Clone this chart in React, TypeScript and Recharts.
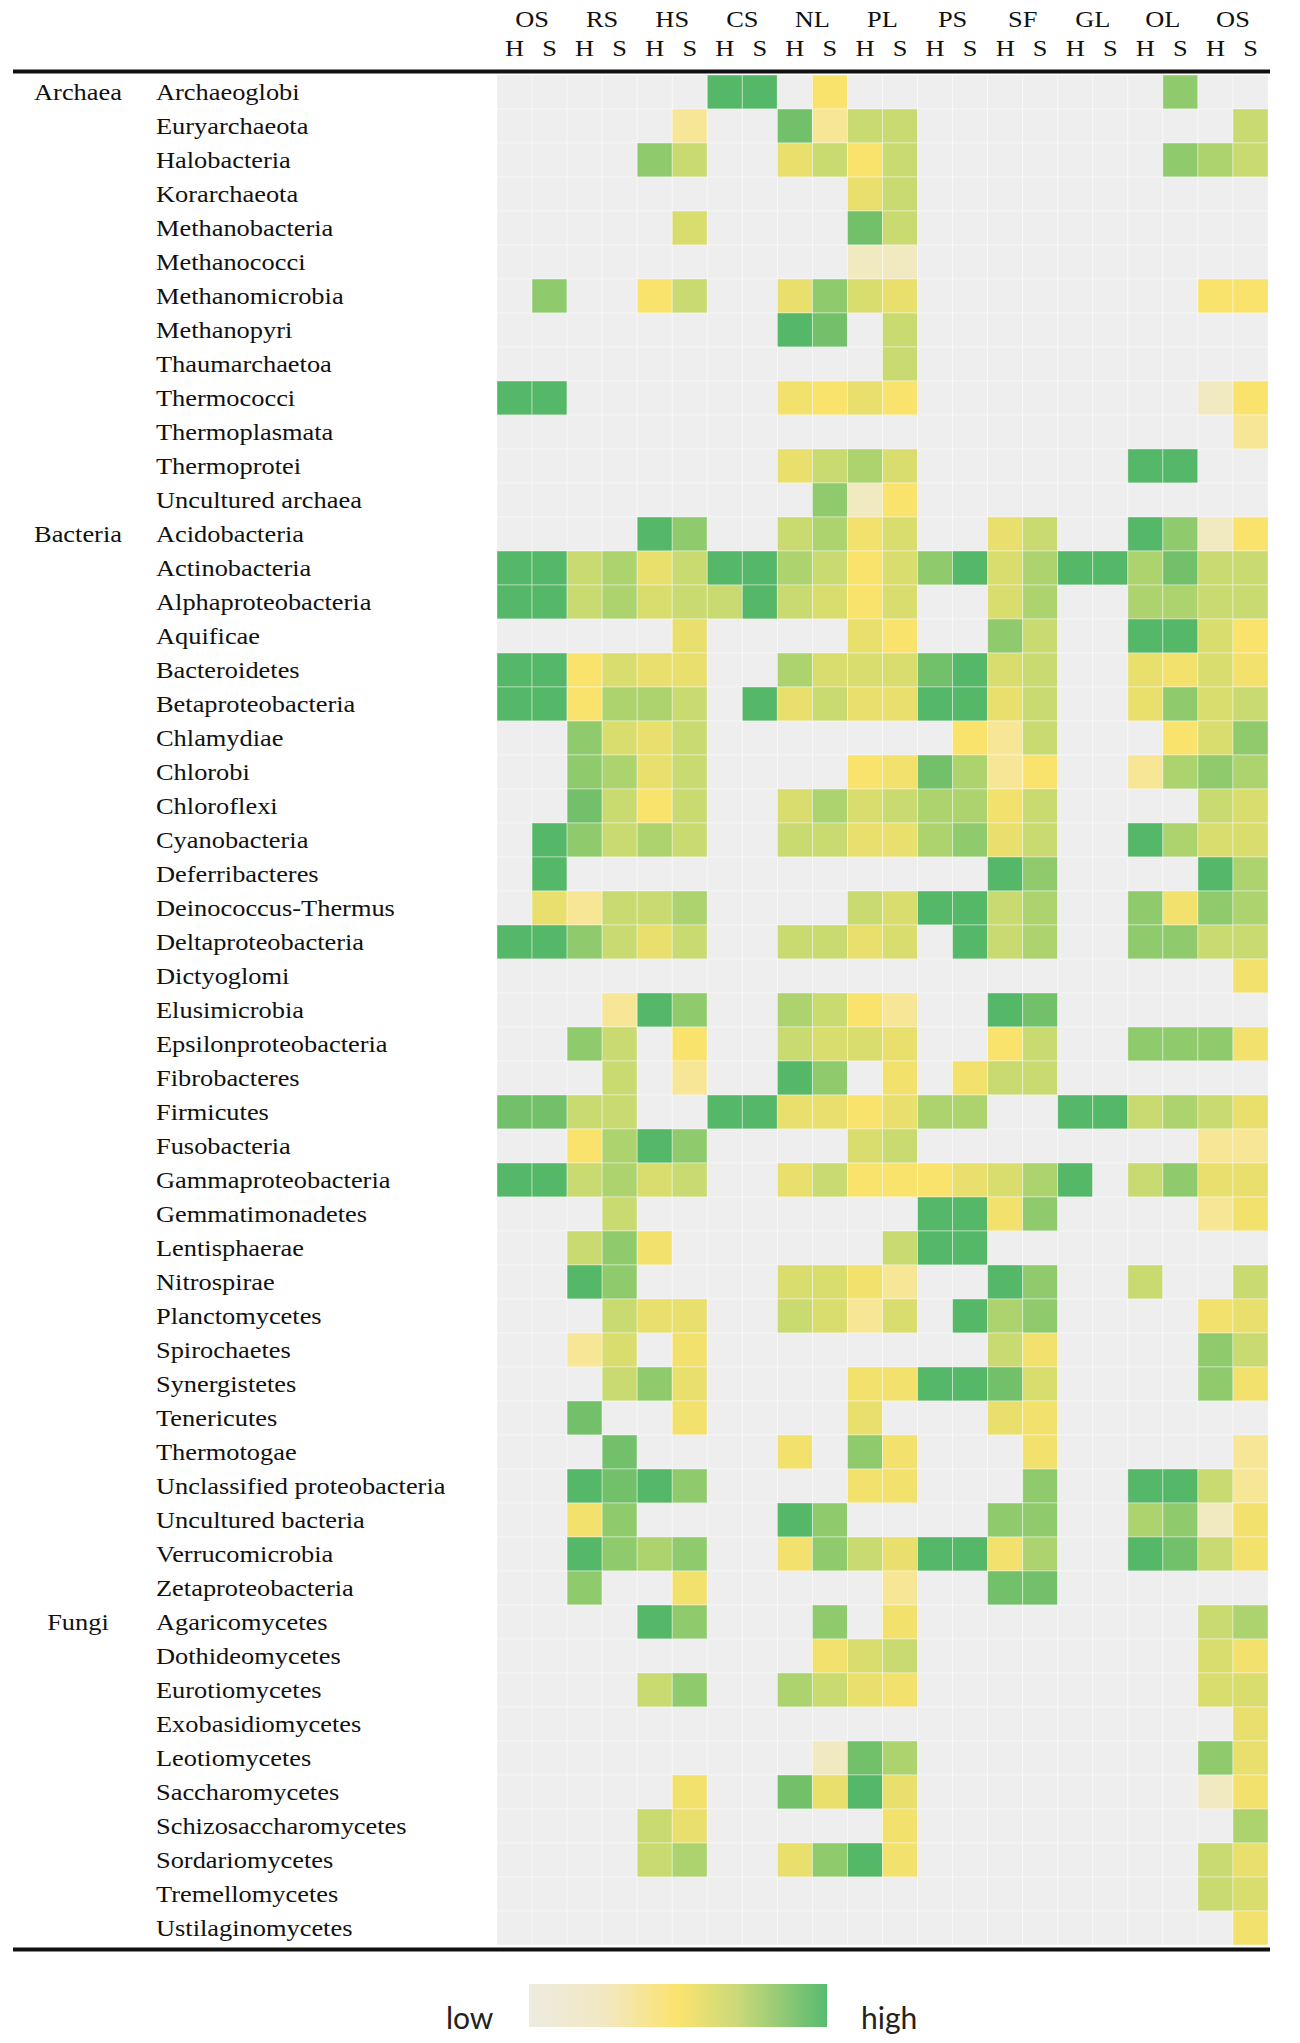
import { ScatterChart, Scatter, XAxis, YAxis } from "recharts";

const sites = ["OS", "RS", "HS", "CS", "NL", "PL", "PS", "SF", "GL", "OL", "OS"];
const sides = ["H", "S"];

const archaeaTaxa = [
  "Archaeoglobi", "Euryarchaeota", "Halobacteria", "Korarchaeota", "Methanobacteria",
  "Methanococci", "Methanomicrobia", "Methanopyri", "Thaumarchaetoa", "Thermococci",
  "Thermoplasmata", "Thermoprotei", "Uncultured archaea",
];
const bacteriaTaxa = [
  "Acidobacteria", "Actinobacteria", "Alphaproteobacteria", "Aquificae", "Bacteroidetes",
  "Betaproteobacteria", "Chlamydiae", "Chlorobi", "Chloroflexi", "Cyanobacteria",
  "Deferribacteres", "Deinococcus-Thermus", "Deltaproteobacteria", "Dictyoglomi",
  "Elusimicrobia", "Epsilonproteobacteria", "Fibrobacteres", "Firmicutes", "Fusobacteria",
  "Gammaproteobacteria", "Gemmatimonadetes", "Lentisphaerae", "Nitrospirae",
  "Planctomycetes", "Spirochaetes", "Synergistetes", "Tenericutes", "Thermotogae",
  "Unclassified proteobacteria", "Uncultured bacteria", "Verrucomicrobia", "Zetaproteobacteria",
];
const fungiTaxa = [
  "Agaricomycetes", "Dothideomycetes", "Eurotiomycetes", "Exobasidiomycetes", "Leotiomycetes",
  "Saccharomycetes", "Schizosaccharomycetes", "Sordariomycetes", "Tremellomycetes",
  "Ustilaginomycetes",
];

// relative abundance, 0 = not detected, 1 (low) .. 6 (high)
// columns: OS H, OS S, RS H, RS S, HS H, HS S, CS H, CS S, NL H, NL S, PL H, PL S,
//          PS H, PS S, SF H, SF S, GL H, GL S, OL H, OL S, OS H, OS S
const archaeaValues = [
  [0, 0, 0, 0, 0, 0, 6, 6, 0, 2, 0, 0, 0, 0, 0, 0, 0, 0, 0, 5, 0, 0],
  [0, 0, 0, 0, 0, 1.5, 0, 0, 5.5, 1.5, 4, 4, 0, 0, 0, 0, 0, 0, 0, 0, 0, 4],
  [0, 0, 0, 0, 5, 4, 0, 0, 3, 4, 2, 4, 0, 0, 0, 0, 0, 0, 0, 5, 4.5, 4],
  [0, 0, 0, 0, 0, 0, 0, 0, 0, 0, 3, 4, 0, 0, 0, 0, 0, 0, 0, 0, 0, 0],
  [0, 0, 0, 0, 0, 3.5, 0, 0, 0, 0, 5.5, 4, 0, 0, 0, 0, 0, 0, 0, 0, 0, 0],
  [0, 0, 0, 0, 0, 0, 0, 0, 0, 0, 1, 1, 0, 0, 0, 0, 0, 0, 0, 0, 0, 0],
  [0, 5, 0, 0, 2, 4, 0, 0, 3, 5, 3.5, 3, 0, 0, 0, 0, 0, 0, 0, 0, 2, 2],
  [0, 0, 0, 0, 0, 0, 0, 0, 6, 5.5, 0, 4, 0, 0, 0, 0, 0, 0, 0, 0, 0, 0],
  [0, 0, 0, 0, 0, 0, 0, 0, 0, 0, 0, 4, 0, 0, 0, 0, 0, 0, 0, 0, 0, 0],
  [6, 6, 0, 0, 0, 0, 0, 0, 2.5, 2, 3, 2, 0, 0, 0, 0, 0, 0, 0, 0, 1, 2],
  [0, 0, 0, 0, 0, 0, 0, 0, 0, 0, 0, 0, 0, 0, 0, 0, 0, 0, 0, 0, 0, 1.5],
  [0, 0, 0, 0, 0, 0, 0, 0, 3, 4, 4.5, 3.5, 0, 0, 0, 0, 0, 0, 6, 6, 0, 0],
  [0, 0, 0, 0, 0, 0, 0, 0, 0, 5, 1, 2, 0, 0, 0, 0, 0, 0, 0, 0, 0, 0],
];
const bacteriaValues = [
  [0, 0, 0, 0, 6, 5, 0, 0, 4, 4.5, 2.5, 3.5, 0, 0, 3, 4, 0, 0, 6, 5, 1, 2],
  [6, 6, 4, 4.5, 3, 4, 6, 6, 4.5, 4, 2, 3.5, 5, 6, 3.5, 4.5, 6, 6, 4.5, 5.5, 4, 4],
  [6, 6, 4, 4.5, 3.5, 4, 4, 6, 4, 3.5, 2, 3.5, 0, 0, 3.5, 4.5, 0, 0, 4.5, 4.5, 4, 4],
  [0, 0, 0, 0, 0, 3, 0, 0, 0, 0, 3, 2, 0, 0, 5, 4, 0, 0, 6, 6, 3.5, 2],
  [6, 6, 2, 3.5, 3, 3, 0, 0, 4.5, 3.5, 3.5, 3.5, 5.5, 6, 3.5, 4, 0, 0, 3, 2.5, 3.5, 2.5],
  [6, 6, 2, 4.5, 4.5, 4, 0, 6, 3, 4, 3, 3, 6, 6, 3, 4, 0, 0, 3, 5, 3.5, 4],
  [0, 0, 5, 3.5, 3, 4, 0, 0, 0, 0, 0, 0, 0, 2, 1.5, 4, 0, 0, 0, 2, 3.5, 5],
  [0, 0, 5, 4.5, 3, 4, 0, 0, 0, 0, 2, 2.5, 5.5, 4.5, 1.5, 2, 0, 0, 1.5, 4.5, 5, 4.5],
  [0, 0, 5.5, 4, 2, 4, 0, 0, 3.5, 4.5, 3.5, 4, 4.5, 4.5, 2.5, 4, 0, 0, 0, 0, 4, 3.5],
  [0, 6, 5, 4, 4.5, 4, 0, 0, 4, 4, 3, 3, 4.5, 5, 3, 4, 0, 0, 6, 4.5, 3.5, 3.5],
  [0, 6, 0, 0, 0, 0, 0, 0, 0, 0, 0, 0, 0, 0, 6, 5, 0, 0, 0, 0, 6, 4.5],
  [0, 3, 1.5, 4, 4, 4.5, 0, 0, 0, 0, 4, 3.5, 6, 6, 4, 4.5, 0, 0, 5, 2.5, 5, 4.5],
  [6, 6, 5, 4, 3, 4, 0, 0, 4, 4, 3, 3.5, 0, 6, 4, 4.5, 0, 0, 5, 5, 4, 4],
  [0, 0, 0, 0, 0, 0, 0, 0, 0, 0, 0, 0, 0, 0, 0, 0, 0, 0, 0, 0, 0, 2.5],
  [0, 0, 0, 1.5, 6, 5, 0, 0, 4.5, 4, 2, 1.5, 0, 0, 6, 5.5, 0, 0, 0, 0, 0, 0],
  [0, 0, 5, 4, 0, 2, 0, 0, 4, 3.5, 3.5, 3, 0, 0, 2, 4, 0, 0, 5, 5, 5, 2.5],
  [0, 0, 0, 4, 0, 1.5, 0, 0, 6, 5, 0, 2.5, 0, 2.5, 4, 4, 0, 0, 0, 0, 0, 0],
  [5.5, 5.5, 4, 4, 0, 0, 6, 6, 3, 3, 2, 3, 4.5, 4.5, 0, 0, 6, 6, 4, 4.5, 4, 3],
  [0, 0, 2, 4.5, 6, 5, 0, 0, 0, 0, 3.5, 4, 0, 0, 0, 0, 0, 0, 0, 0, 1.5, 1.5],
  [6, 6, 4, 4.5, 3.5, 4, 0, 0, 3, 4, 2, 2, 2, 3, 3.5, 4.5, 6, 0, 4, 5, 3, 3],
  [0, 0, 0, 4, 0, 0, 0, 0, 0, 0, 0, 0, 6, 6, 2.5, 5, 0, 0, 0, 0, 1.5, 2.5],
  [0, 0, 4, 5, 2.5, 0, 0, 0, 0, 0, 0, 4, 6, 6, 0, 0, 0, 0, 0, 0, 0, 0],
  [0, 0, 6, 5, 0, 0, 0, 0, 3.5, 3.5, 2.5, 1.5, 0, 0, 6, 5, 0, 0, 4, 0, 0, 4],
  [0, 0, 0, 4, 3, 3, 0, 0, 4, 3.5, 1.5, 3.5, 0, 6, 4.5, 5, 0, 0, 0, 0, 2.5, 3],
  [0, 0, 1.5, 3.5, 0, 2.5, 0, 0, 0, 0, 0, 0, 0, 0, 4, 2.5, 0, 0, 0, 0, 5, 4],
  [0, 0, 0, 4, 5, 3, 0, 0, 0, 0, 2.5, 2.5, 6, 6, 5.5, 3.5, 0, 0, 0, 0, 5, 2.5],
  [0, 0, 5.5, 0, 0, 2.5, 0, 0, 0, 0, 3, 0, 0, 0, 3, 2.5, 0, 0, 0, 0, 0, 0],
  [0, 0, 0, 5.5, 0, 0, 0, 0, 2.5, 0, 5, 2.5, 0, 0, 0, 2.5, 0, 0, 0, 0, 0, 1.5],
  [0, 0, 6, 5.5, 6, 5, 0, 0, 0, 0, 2.5, 2.5, 0, 0, 0, 5, 0, 0, 6, 6, 4, 1.5],
  [0, 0, 2.5, 5, 0, 0, 0, 0, 6, 5, 0, 0, 0, 0, 5, 5, 0, 0, 4.5, 5, 1, 2.5],
  [0, 0, 6, 5, 4.5, 5, 0, 0, 2.5, 5, 4, 3, 6, 6, 2.5, 4.5, 0, 0, 6, 5.5, 4, 2.5],
  [0, 0, 5, 0, 0, 2.5, 0, 0, 0, 0, 0, 1.5, 0, 0, 5.5, 5.5, 0, 0, 0, 0, 0, 0],
];
const fungiValues = [
  [0, 0, 0, 0, 6, 5, 0, 0, 0, 5, 0, 2.5, 0, 0, 0, 0, 0, 0, 0, 0, 4, 4.5],
  [0, 0, 0, 0, 0, 0, 0, 0, 0, 2.5, 3.5, 4, 0, 0, 0, 0, 0, 0, 0, 0, 3.5, 2.5],
  [0, 0, 0, 0, 4, 5, 0, 0, 4.5, 4, 3, 2.5, 0, 0, 0, 0, 0, 0, 0, 0, 3.5, 3.5],
  [0, 0, 0, 0, 0, 0, 0, 0, 0, 0, 0, 0, 0, 0, 0, 0, 0, 0, 0, 0, 0, 3],
  [0, 0, 0, 0, 0, 0, 0, 0, 0, 1, 5.5, 4.5, 0, 0, 0, 0, 0, 0, 0, 0, 5, 3],
  [0, 0, 0, 0, 0, 2.5, 0, 0, 5.5, 3, 6, 3, 0, 0, 0, 0, 0, 0, 0, 0, 1, 2.5],
  [0, 0, 0, 0, 4, 3, 0, 0, 0, 0, 0, 2.5, 0, 0, 0, 0, 0, 0, 0, 0, 0, 4.5],
  [0, 0, 0, 0, 4, 4.5, 0, 0, 3, 5, 6, 2.5, 0, 0, 0, 0, 0, 0, 0, 0, 4, 3],
  [0, 0, 0, 0, 0, 0, 0, 0, 0, 0, 0, 0, 0, 0, 0, 0, 0, 0, 0, 0, 4, 3.5],
  [0, 0, 0, 0, 0, 0, 0, 0, 0, 0, 0, 0, 0, 0, 0, 0, 0, 0, 0, 0, 0, 2.5],
];

const groups = [
  { name: "Archaea", taxa: archaeaTaxa, values: archaeaValues },
  { name: "Bacteria", taxa: bacteriaTaxa, values: bacteriaValues },
  { name: "Fungi", taxa: fungiTaxa, values: fungiValues },
];

const columns = sites.flatMap((s) => sides.map((h) => ({ site: s, side: h })));
const taxa = groups.flatMap((g) => g.taxa);
const groupStart: Record<number, string> = {};
{
  let n = 0;
  groups.forEach((g) => {
    groupStart[n] = g.name;
    n += g.taxa.length;
  });
}
const cells = groups
  .flatMap((g) => g.values)
  .flatMap((row, r) => row.map((v, c) => ({ x: c + 0.5, y: r + 0.5, v })));

const W = 1300;
const H = 2043;
const PLOT_LEFT = 497;
const PLOT_RIGHT = 1268;
const PLOT_TOP = 75;
const PLOT_BOTTOM = 1945;
const CELL_W = (PLOT_RIGHT - PLOT_LEFT) / columns.length;
const CELL_H = (PLOT_BOTTOM - PLOT_TOP) / taxa.length;

const stops = ["#eeeeee", "#f1e9c0", "#fae36c", "#e9df6c", "#c8da70", "#8fcb6c", "#55b768"];

function hex(c: string) {
  return [1, 3, 5].map((i) => parseInt(c.slice(i, i + 2), 16));
}

function colorFor(v: number) {
  if (v <= 0) return stops[0];
  const lo = Math.floor(v);
  const hi = Math.min(stops.length - 1, lo + 1);
  const t = v - lo;
  const a = hex(stops[lo]);
  const b = hex(stops[hi]);
  const m = a.map((x, i) => Math.round(x + (b[i] - x) * t));
  return `rgb(${m[0]},${m[1]},${m[2]})`;
}

const serif = "'Liberation Serif', 'Times New Roman', serif";

const HeatCell = (props: any) => {
  const { cx, cy, payload } = props;
  return (
    <rect
      x={cx - CELL_W / 2}
      y={cy - CELL_H / 2}
      width={CELL_W}
      height={CELL_H}
      fill={colorFor(payload.v)}
      stroke="#ffffff"
      strokeOpacity={0.4}
      strokeWidth={1}
    />
  );
};

const RowTick = (props: any) => {
  const { y, payload } = props;
  const i = Math.floor(payload.value);
  const g = groupStart[i];
  return (
    <g fontFamily={serif} fontSize={24} fill="#111">
      {g && (
        <text transform={`translate(78, ${y + 8}) scale(1.1, 1)`} textAnchor="middle">
          {g}
        </text>
      )}
      <text transform={`translate(156, ${y + 8}) scale(1.1, 1)`}>{taxa[i]}</text>
    </g>
  );
};

const ColTick = (props: any) => {
  const { x, payload } = props;
  const c = Math.floor(payload.value);
  const col = columns[c];
  return (
    <g fontFamily={serif} fontSize={24} fill="#111">
      {c % 2 === 0 && (
        <text transform={`translate(${x + CELL_W / 2}, 27) scale(1.1, 1)`} textAnchor="middle">
          {col.site}
        </text>
      )}
      <text transform={`translate(${x}, 56) scale(1.1, 1)`} textAnchor="middle">
        {col.side}
      </text>
    </g>
  );
};

export default function App() {
  return (
    <div style={{ position: "absolute", left: 0, top: 0, width: W, height: H, background: "#fff" }}>
      <ScatterChart
        width={W}
        height={H}
        margin={{ top: PLOT_TOP - 70, right: W - PLOT_RIGHT, bottom: H - PLOT_BOTTOM, left: PLOT_LEFT - 340 }}
      >
        <XAxis
          dataKey="x"
          type="number"
          orientation="top"
          domain={[0, columns.length]}
          ticks={columns.map((_, i) => i + 0.5)}
          interval={0}
          height={70}
          axisLine={false}
          tickLine={false}
          tick={<ColTick />}
        />
        <YAxis
          dataKey="y"
          type="number"
          reversed
          domain={[0, taxa.length]}
          ticks={taxa.map((_, i) => i + 0.5)}
          interval={0}
          width={340}
          axisLine={false}
          tickLine={false}
          tick={<RowTick />}
        />
        <Scatter data={cells} shape={<HeatCell />} isAnimationActive={false} />
      </ScatterChart>
      <svg width={W} height={H} style={{ position: "absolute", left: 0, top: 0, pointerEvents: "none" }}>
        <defs>
          <linearGradient id="legendFill" x1="0" y1="0" x2="1" y2="0">
            <stop offset="0%" stopColor="#eeebe0" />
            <stop offset="25%" stopColor="#f2e8c2" />
            <stop offset="50%" stopColor="#fbe36e" />
            <stop offset="70%" stopColor="#cbd97a" />
            <stop offset="100%" stopColor="#58bb6f" />
          </linearGradient>
        </defs>
        <line x1={13} x2={PLOT_RIGHT + 2} y1={71.5} y2={71.5} stroke="#111" strokeWidth={4} />
        <line x1={13} x2={PLOT_RIGHT + 2} y1={1949.5} y2={1949.5} stroke="#111" strokeWidth={4} />
        <rect x={529} y={1984} width={298} height={43} fill="url(#legendFill)" />
        <text x={446} y={2029} fontFamily="Lato, 'Open Sans', sans-serif" fontSize={30} fill="#222">
          low
        </text>
        <text x={861} y={2029} fontFamily="Lato, 'Open Sans', sans-serif" fontSize={30} fill="#222">
          high
        </text>
      </svg>
    </div>
  );
}
